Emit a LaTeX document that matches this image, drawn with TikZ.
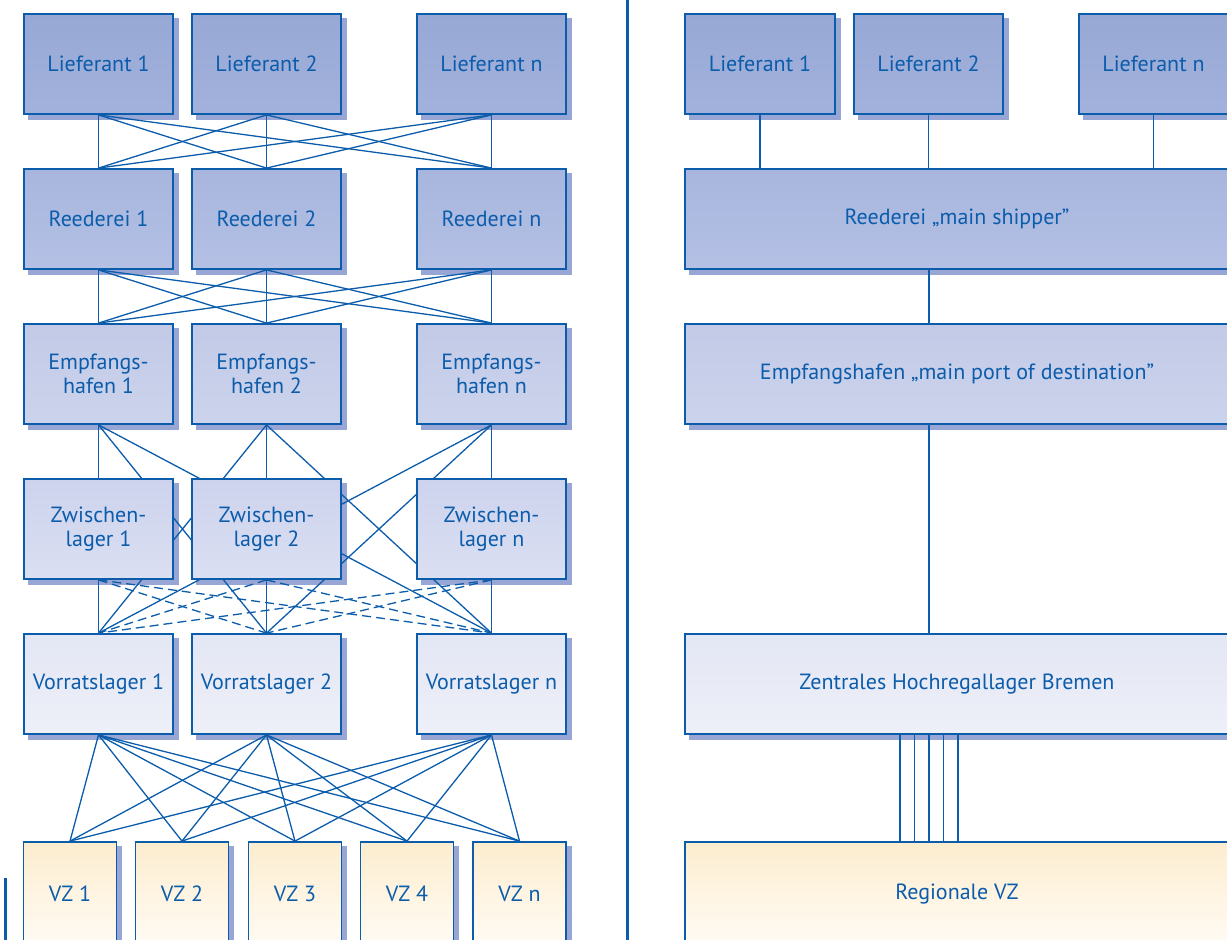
\documentclass[tikz,border=0pt]{standalone}
\usepackage{fontspec}
\setmainfont{PT Sans}
\usetikzlibrary{calc}

\definecolor{dbblue}{HTML}{0B5CAB}
\definecolor{shadowblue}{HTML}{97A6D4}
\definecolor{liefA}{HTML}{97A8D5}
\definecolor{liefB}{HTML}{A3B2DC}
\definecolor{reedA}{HTML}{A8B6DE}
\definecolor{reedB}{HTML}{B4C0E4}
\definecolor{empA}{HTML}{C2CAE7}
\definecolor{empB}{HTML}{CCD3EC}
\definecolor{zwA}{HTML}{CDD3ED}
\definecolor{zwB}{HTML}{DADFF2}
\definecolor{vorA}{HTML}{E3E6F4}
\definecolor{vorB}{HTML}{EEF0F8}
\definecolor{vzA}{HTML}{FDEDCF}
\definecolor{vzB}{HTML}{FFFBF4}

\pgfdeclarelayer{shadow}
\pgfdeclarelayer{lines}
\pgfsetlayers{shadow,lines,main}

\tikzset{
  box/.style={draw=dbblue, line width=1.8pt, text=dbblue, inner sep=0pt,
    minimum width=149pt, minimum height=100pt, align=center,
    font=\fontsize{22}{24}\selectfont},
  wide/.style={minimum width=544pt},
  liefbox/.style={box, top color=liefA, bottom color=liefB},
  reedbox/.style={box, top color=reedA, bottom color=reedB},
  empbox/.style={box, top color=empA, bottom color=empB},
  zwbox/.style={box, top color=zwA, bottom color=zwB},
  vorbox/.style={box, top color=vorA, bottom color=vorB},
  vzbox/.style={box, top color=vzA, bottom color=vzB, minimum height=104pt},
  link/.style={draw=dbblue, line width=1.3pt},
  dlink/.style={link, dash pattern=on 9pt off 5pt},
  bar/.style={draw=dbblue, line width=3pt},
}

\begin{document}
\begin{tikzpicture}[x=1pt,y=-1pt]
  \useasboundingbox (0,0) rectangle (1227,940);
  \clip (0,0) rectangle (1227,940);

  % left: many partners
  \node[liefbox] (lief1) at (98.5,64) {Lieferant 1};
  \node[liefbox] (lief2) at (266.5,64) {Lieferant 2};
  \node[liefbox] (liefn) at (491.5,64) {Lieferant n};

  \node[reedbox] (reed1) at (98.5,219) {Reederei 1};
  \node[reedbox] (reed2) at (266.5,219) {Reederei 2};
  \node[reedbox] (reedn) at (491.5,219) {Reederei n};

  \node[empbox] (emp1) at (98.5,374) {Empfangs-\\hafen 1};
  \node[empbox] (emp2) at (266.5,374) {Empfangs-\\hafen 2};
  \node[empbox] (empn) at (491.5,374) {Empfangs-\\hafen n};

  \node[zwbox] (zw1) at (98.5,529) {Zwischen-\\lager 1};
  \node[zwbox] (zw2) at (266.5,529) {Zwischen-\\lager 2};
  \node[zwbox] (zwn) at (491.5,529) {Zwischen-\\lager n};

  \node[vorbox] (vor1) at (98.5,684) {Vorratslager 1};
  \node[vorbox] (vor2) at (266.5,684) {Vorratslager 2};
  \node[vorbox] (vorn) at (491.5,684) {Vorratslager n};

  \node[vzbox, minimum width=93pt] (vz1) at (70,894) {VZ 1};
  \node[vzbox, minimum width=93pt] (vz2) at (182,894) {VZ 2};
  \node[vzbox, minimum width=93pt] (vz3) at (295,894) {VZ 3};
  \node[vzbox, minimum width=93pt] (vz4) at (407,894) {VZ 4};
  \node[vzbox, minimum width=93pt] (vz5) at (519.5,894) {VZ n};

  % right: one main shipper
  \node[liefbox, minimum width=150pt] (rlief1) at (760,64) {Lieferant 1};
  \node[liefbox] (rlief2) at (928.5,64) {Lieferant 2};
  \node[liefbox] (rliefn) at (1153.5,64) {Lieferant n};
  \node[reedbox, wide] (rreed) at (957,219) {Reederei „main shipper”};
  \node[empbox, wide] (remp) at (957,374) {Empfangshafen „main port of destination”};
  \node[vorbox, wide] (rzhl) at (957,684) {Zentrales Hochregallager Bremen};
  \node[vzbox, wide] (rvz) at (957,894) {Regionale VZ};
  \coordinate (spine) at (929,0);

  % shadows
  \begin{pgfonlayer}{shadow}
    \foreach \n in {lief1,lief2,liefn,reed1,reed2,reedn,emp1,emp2,empn,
        zw1,zw2,zwn,vor1,vor2,vorn,vz1,vz2,vz3,vz4,vz5,
        rlief1,rlief2,rliefn,rreed,remp,rzhl,rvz}
      \fill[shadowblue] ($(\n.north west)+(5,5)$) rectangle ($(\n.south east)+(5,5)$);
  \end{pgfonlayer}

  \begin{pgfonlayer}{lines}
    \foreach \a in {1,2,n}
      \foreach \b in {1,2,n} {
        \draw[link] (lief\a.south) -- (reed\b.north);
        \draw[link] (reed\a.south) -- (emp\b.north);
        \draw[link] (emp\a.south) -- (vor\b.north);
        \draw[dlink] (zw\a.south) -- (vor\b.north);
      }
    \foreach \a in {1,2,n}
      \foreach \b in {1,...,5}
        \draw[link] (vor\a.south) -- (vz\b.north);

    \draw[link] (rlief1.south) -- (rlief1.south |- rreed.north);
    \draw[link] (rlief2.south) -- (rlief2.south |- rreed.north);
    \draw[link] (rliefn.south) -- (rliefn.south |- rreed.north);
    \draw[link] (spine |- rreed.south) -- (spine |- remp.north);
    \draw[link] (spine |- remp.south) -- (spine |- rzhl.north);
    \foreach \d in {-29,-14.5,0,14.5,29}
      \draw[link] ($(spine |- rzhl.south)+(\d,0)$) -- ($(spine |- rvz.north)+(\d,0)$);
  \end{pgfonlayer}

  % dividers
  \coordinate (divtop) at (627,0);
  \coordinate (divbot) at (627,940);
  \draw[bar] (divtop) -- (divbot);
  \coordinate (marktop) at (5.5,878);
  \coordinate (markbot) at (5.5,940);
  \draw[bar] (marktop) -- (markbot);
\end{tikzpicture}
\end{document}
